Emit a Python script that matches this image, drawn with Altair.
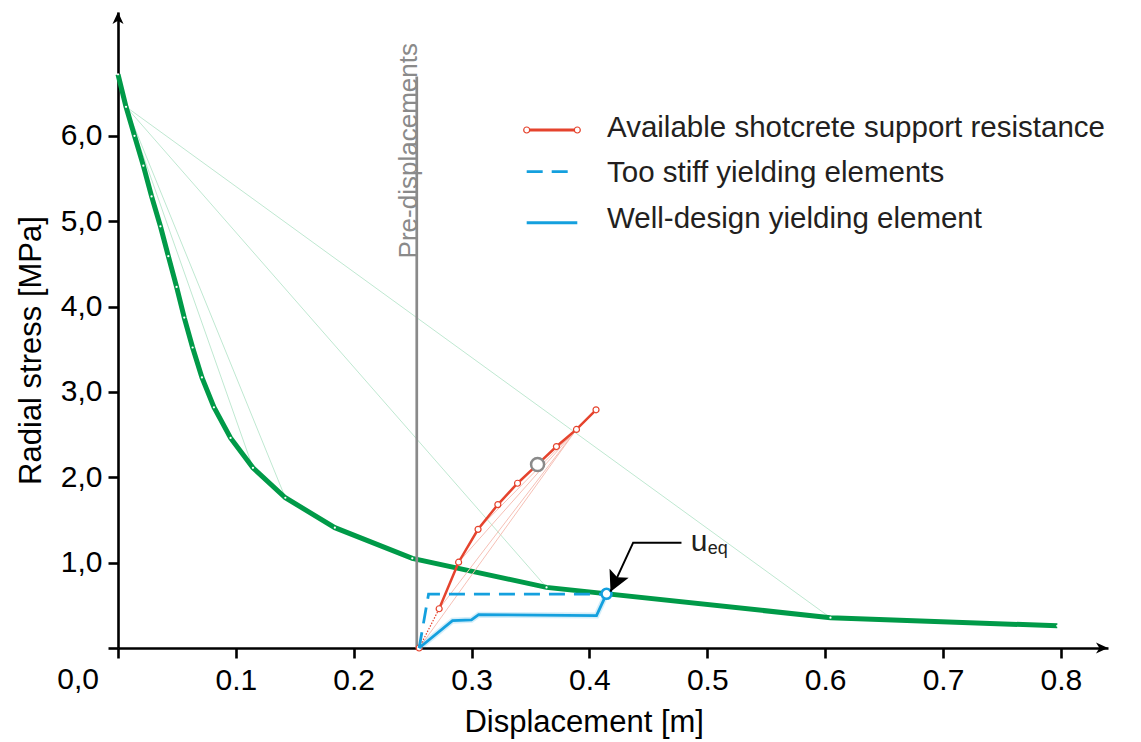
import altair as alt
import pandas as pd

# ---------------------------------------------------------------------------
# Data
# ---------------------------------------------------------------------------
# Ground reaction curve (rock mass), displacement [m] / radial stress [MPa]
grc_x = [0.0, 0.0068, 0.014, 0.0215, 0.0285, 0.036, 0.0427, 0.0497, 0.0562,
         0.0633, 0.0712, 0.0814, 0.0955, 0.1145, 0.142, 0.184, 0.2497,
         0.3636, 0.6045, 0.797]
grc_y = [6.72, 6.34, 6.0, 5.65, 5.29, 4.94, 4.59, 4.23, 3.87, 3.52, 3.17,
         2.82, 2.46, 2.11, 1.76, 1.41, 1.05, 0.71, 0.355, 0.26]
# secant chords of the ground reaction curve (index of start, index of end)
grc_chords = [(1, 13), (1, 14), (1, 17), (1, 18)]

# Available shotcrete support resistance
shot_x = [0.2555, 0.2725, 0.289, 0.3055, 0.3223, 0.339, 0.356, 0.372, 0.389, 0.4056]
shot_y = [0.0, 0.46, 1.005, 1.39, 1.68, 1.93, 2.15, 2.36, 2.56, 2.79]
shot_chords = [(0, 8), (1, 8), (2, 8), (3, 8)]
shot_mark = 6  # highlighted point of the shotcrete curve

# Too stiff yielding elements
stiff_x = [0.2555, 0.2635, 0.4145]
stiff_y = [0.0, 0.63, 0.63]

# Well-designed yielding element
well_x = [0.2555, 0.2838, 0.2999, 0.306, 0.406, 0.4145]
well_y = [0.0, 0.32, 0.33, 0.39, 0.38, 0.635]

# Equilibrium point
ueq_x = [0.4145]
ueq_y = [0.635]

# Pre-displacements marker
pre_x = [0.2535]
pre_y = [0.0]
pre_y2 = [6.695]
pre_label = ["Pre-displacements"]
pre_label_y = [5.825]

# Leader line of the u_eq annotation (ends at the arrow tip)
lead_x = [0.4781, 0.4371, 0.4179]
lead_y = [1.234, 1.234, 0.66]
ueq_main = ["u"]
ueq_sub = ["eq"]
ueq_main_pos = (0.486, 1.140)
ueq_sub_pos = (0.5004, 1.10)

# Axes
x_ticks = [0.0, 0.1, 0.2, 0.3, 0.4, 0.5, 0.6, 0.7, 0.8]
y_ticks = [0, 1, 2, 3, 4, 5, 6]
origin_label = ["0,0"]
x_max = 0.84
y_max = 7.45

legend_labels = ["Available shotcrete support resistance",
                 "Too stiff yielding elements",
                 "Well-design yielding element"]

# ---------------------------------------------------------------------------
# Styles
# ---------------------------------------------------------------------------
FONT = "Liberation Sans"
GREEN = "#009a48"
GREEN_LIGHT = "#bfe8d1"
RED = "#e5432d"
RED_LIGHT = "#f6c0b6"
BLUE = "#14a0de"
GREY = "#8a8a8a"
INK = "#231f20"

W, H = 990, 636

xs = alt.Scale(domain=[0, x_max], nice=False, zero=False)
ys = alt.Scale(domain=[0, y_max], nice=False, zero=False)

x_axis = alt.Axis(
    values=x_ticks,
    labelExpr="datum.value == 0 ? '' : format(datum.value, '.1f')",
    title="Displacement [m]", titleX=465.7, titleY=83, titleAngle=0,
    titleAlign="center", titleBaseline="alphabetic", grid=False,
    labelPadding=7,
)
y_axis = alt.Axis(
    values=y_ticks,
    labelExpr="datum.value == 0 ? '' : replace(format(datum.value, '.1f'), '.', ',')",
    title="Radial stress [MPa]", titleX=-77.5, titleY=338, titleAngle=270,
    titleAlign="center", titleBaseline="alphabetic", grid=False,
    labelPadding=6,
)


def X():
    return alt.X("x:Q", scale=xs, axis=x_axis)


def Y():
    return alt.Y("y:Q", scale=ys, axis=y_axis)


def series(xv, yv):
    return pd.DataFrame({"x": xv, "y": yv, "i": list(range(len(xv)))})


def chords(xv, yv, pairs):
    rows = []
    for k, (a, b) in enumerate(pairs):
        rows.append({"x": xv[a], "y": yv[a], "seg": k, "i": 0})
        rows.append({"x": xv[b], "y": yv[b], "seg": k, "i": 1})
    return pd.DataFrame(rows)


grc = series(grc_x, grc_y)
shot = series(shot_x, shot_y)

layers = []

# ground reaction curve: chords, curve, vertex dots
layers.append(
    alt.Chart(chords(grc_x, grc_y, grc_chords))
    .mark_line(color=GREEN_LIGHT, strokeWidth=1)
    .encode(x=X(), y=Y(), detail="seg:N", order="i:Q")
)
layers.append(
    alt.Chart(grc).mark_line(color=GREEN, strokeWidth=5)
    .encode(x=X(), y=Y(), order="i:Q")
)
layers.append(
    alt.Chart(grc).mark_point(filled=True, color="white", size=5, opacity=1)
    .encode(x=X(), y=Y())
)

# pre-displacement line and label
pre = pd.DataFrame({"x": pre_x, "y": pre_y, "y2": pre_y2})
layers.append(
    alt.Chart(pre).mark_rule(color=GREY, strokeWidth=2.7)
    .encode(x=X(), y=Y(), y2="y2:Q")
)
layers.append(
    alt.Chart(pd.DataFrame({"x": pre_x, "y": pre_label_y, "t": pre_label}))
    .mark_text(angle=270, align="center", baseline="alphabetic",
               font=FONT, fontSize=26, color=GREY)
    .encode(x=X(), y=Y(), text="t:N")
)

# shotcrete support curve
layers.append(
    alt.Chart(chords(shot_x, shot_y, shot_chords))
    .mark_line(color=RED_LIGHT, strokeWidth=1)
    .encode(x=X(), y=Y(), detail="seg:N", order="i:Q")
)
layers.append(
    alt.Chart(series(shot_x[:2], shot_y[:2]))
    .mark_line(color=RED, strokeWidth=1.2, strokeDash=[1.5, 1.5])
    .encode(x=X(), y=Y(), order="i:Q")
)
layers.append(
    alt.Chart(series(shot_x[1:], shot_y[1:]))
    .mark_line(color=RED, strokeWidth=2.5)
    .encode(x=X(), y=Y(), order="i:Q")
)
layers.append(
    alt.Chart(shot).mark_point(filled=False, fill="white", fillOpacity=1,
                               color=RED, strokeWidth=1.2, size=36, opacity=1)
    .encode(x=X(), y=Y())
)
layers.append(
    alt.Chart(series([shot_x[shot_mark]], [shot_y[shot_mark]]))
    .mark_point(filled=False, fill="white", fillOpacity=1, color=GREY,
                strokeWidth=2.5, size=170, opacity=1)
    .encode(x=X(), y=Y())
)

# yielding element curves
layers.append(
    alt.Chart(series(stiff_x, stiff_y))
    .mark_line(color=BLUE, strokeWidth=2.8, strokeDash=[16, 9])
    .encode(x=X(), y=Y(), order="i:Q")
)
layers.append(
    alt.Chart(series(well_x, well_y))
    .mark_line(color=BLUE, strokeWidth=6, opacity=0.18)
    .encode(x=X(), y=Y(), order="i:Q")
)
layers.append(
    alt.Chart(series(well_x, well_y))
    .mark_line(color=BLUE, strokeWidth=2.8)
    .encode(x=X(), y=Y(), order="i:Q")
)
layers.append(
    alt.Chart(series(ueq_x, ueq_y))
    .mark_point(filled=False, fill="white", fillOpacity=1, color=BLUE,
                strokeWidth=2.6, size=100, opacity=1)
    .encode(x=X(), y=Y())
)

# u_eq annotation
ARROW = "M0,0 L0.52,1 L0,0.78 L-0.52,1 Z"
layers.append(
    alt.Chart(series(lead_x, lead_y))
    .mark_line(color="black", strokeWidth=2)
    .encode(x=X(), y=Y(), order="i:Q")
)
layers.append(
    alt.Chart(series(lead_x[-1:], lead_y[-1:]))
    .mark_point(shape=ARROW, filled=True, color="black", size=1650,
                angle=205, opacity=1)
    .encode(x=X(), y=Y())
)
layers.append(
    alt.Chart(pd.DataFrame({"x": [ueq_main_pos[0]], "y": [ueq_main_pos[1]], "t": ueq_main}))
    .mark_text(align="left", baseline="alphabetic", font=FONT, fontSize=30, color=INK)
    .encode(x=X(), y=Y(), text="t:N")
)
layers.append(
    alt.Chart(pd.DataFrame({"x": [ueq_sub_pos[0]], "y": [ueq_sub_pos[1]], "t": ueq_sub}))
    .mark_text(align="left", baseline="alphabetic", font=FONT, fontSize=18, color=INK)
    .encode(x=X(), y=Y(), text="t:N")
)

# axis arrow heads and the shared origin label
AXIS_ARROW = "M0,0 L0.46,1 L0,0.72 L-0.46,1 Z"
layers.append(
    alt.Chart(series([0.0], [y_max]))
    .mark_point(shape=AXIS_ARROW, filled=True, color="black", size=576,
                angle=0, opacity=1)
    .encode(x=X(), y=Y())
)
layers.append(
    alt.Chart(series([x_max], [0.0]))
    .mark_point(shape=AXIS_ARROW, filled=True, color="black", size=576,
                angle=90, opacity=1)
    .encode(x=X(), y=Y())
)
layers.append(
    alt.Chart(pd.DataFrame({"x": [0.0], "y": [0.0], "t": origin_label}))
    .mark_text(align="right", baseline="alphabetic", dx=-19, dy=41,
               font=FONT, fontSize=30, color="black")
    .encode(x=X(), y=Y(), text="t:N")
)

# legend (pixel layout inside the plot area)
LX0, LX1, LTX = 408.7, 459.3, 489
row_line_y = [118, 159.7, 210.7]
row_text_y = [125.3, 169.7, 216.3]


def one(label):
    return pd.DataFrame({"t": [label]})


layers.append(
    alt.Chart(one(legend_labels[0])).mark_rule(color=RED, strokeWidth=2.8)
    .encode(x=alt.value(LX0), x2=alt.value(LX1), y=alt.value(row_line_y[0]))
)
for px in (LX0, LX1):
    layers.append(
        alt.Chart(one(legend_labels[0]))
        .mark_point(filled=False, fill="white", fillOpacity=1, color=RED,
                    strokeWidth=1.2, size=36, opacity=1)
        .encode(x=alt.value(px), y=alt.value(row_line_y[0]))
    )
layers.append(
    alt.Chart(one(legend_labels[1]))
    .mark_rule(color=BLUE, strokeWidth=2.8, strokeDash=[16, 9])
    .encode(x=alt.value(LX0), x2=alt.value(LX0 + 41), y=alt.value(row_line_y[1]))
)
layers.append(
    alt.Chart(one(legend_labels[2])).mark_rule(color=BLUE, strokeWidth=3)
    .encode(x=alt.value(LX0), x2=alt.value(LX1), y=alt.value(row_line_y[2]))
)
for k, label in enumerate(legend_labels):
    layers.append(
        alt.Chart(one(label))
        .mark_text(align="left", baseline="alphabetic", font=FONT,
                   fontSize=29.5, color=INK)
        .encode(x=alt.value(LTX), y=alt.value(row_text_y[k]), text="t:N")
    )

chart = (
    alt.layer(*layers)
    .properties(width=W, height=H, autosize="none",
                padding={"left": 118, "top": 12, "right": 33, "bottom": 94},
                background="white")
    .configure_view(stroke=None)
    .configure_axis(
        domainColor="black", domainWidth=2.6, tickColor="black",
        tickWidth=2.6, tickSize=10, labelFont=FONT, labelFontSize=30,
        labelColor="black", titleFont=FONT, titleFontSize=31,
        titleFontWeight="normal", titleColor="black",
    )
)

chart.save("out.html", embed_options={"renderer": "svg", "actions": False})
